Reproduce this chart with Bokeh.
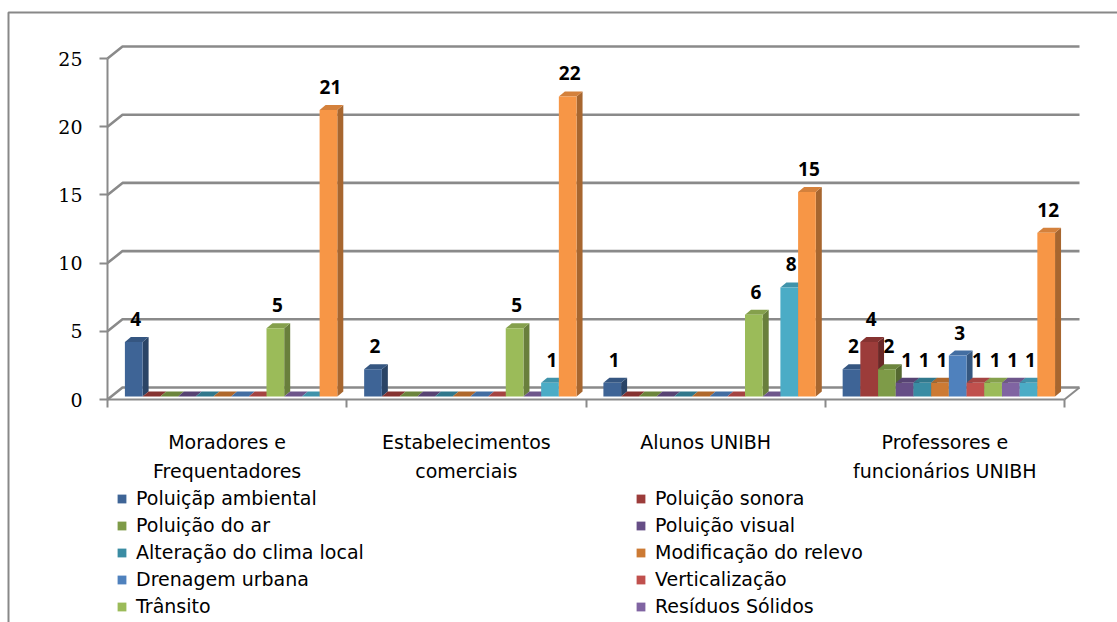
from bokeh.plotting import figure
from bokeh.models import Range1d, LinearAxis, FixedTicker, Legend, LegendItem
from bokeh.core.properties import value
from bokeh.embed import file_html
from bokeh.resources import INLINE

# ---------------- data ----------------
categories = ["Moradores e\nFrequentadores", "Estabelecimentos\ncomerciais",
              "Alunos UNIBH", "Professores e\nfuncionários UNIBH"]
legend_labels = ["Poluiçãp ambiental", "Poluição sonora", "Poluição do ar", "Poluição visual",
                 "Alteração do clima local", "Modificação do relevo", "Drenagem urbana",
                 "Verticalização", "Trânsito", "Resíduos Sólidos"]
poluicao_ambiental = [4, 2, 1, 2]
poluicao_sonora = [0, 0, 0, 4]
poluicao_ar = [0, 0, 0, 2]
poluicao_visual = [0, 0, 0, 1]
alteracao_clima = [0, 0, 0, 1]
modificacao_relevo = [0, 0, 0, 1]
drenagem_urbana = [0, 0, 0, 3]
verticalizacao = [0, 0, 0, 1]
transito = [5, 5, 6, 1]
residuos_solidos = [0, 0, 0, 1]
serie_11 = [0, 1, 8, 1]
serie_12 = [21, 22, 15, 12]
series = [poluicao_ambiental, poluicao_sonora, poluicao_ar, poluicao_visual, alteracao_clima,
          modificacao_relevo, drenagem_urbana, verticalizacao, transito, residuos_solidos,
          serie_11, serie_12]
y_ticks = [0, 5, 10, 15, 20, 25]

colors = ["#3E6496", "#9C3C3A", "#7E9B48", "#664E86", "#3A8CA3", "#CC7A34",
          "#4F81BD", "#C0504D", "#9BBB59", "#8064A2", "#4BACC6", "#F79646"]

# ---------------- geometry (pixels -> data) ----------------
W, H = 1117, 622
X0PX, CATPX = 107.0, 239.25
Y0PX, UNITPX = 399.0, 13.64


def X(px):
    return (px - X0PX) / CATPX


def V(py):
    return (Y0PX - py) / UNITPX


def shade(hexcol, f):
    h = hexcol.lstrip("#")
    r, g, b = (int(h[i:i + 2], 16) for i in (0, 2, 4))
    return "#%02x%02x%02x" % (int(r * f), int(g * f), int(b * f))


BW = 17.7 / CATPX
GAP = 13.4 / CATPX
SHX, SHV = 4 / CATPX, 3 / UNITPX         # bars sit slightly inside the depth
DDX, DDV = 6 / CATPX, 5 / UNITPX         # bar depth
WDX, WDV = 15 / CATPX, 12 / UNITPX       # wall depth

p = figure(width=W, height=H, x_range=Range1d(X(0), X(W)), y_range=Range1d(V(H), V(0)),
           output_backend="svg", toolbar_location=None, min_border=0,
           x_axis_type=None, y_axis_type=None, outline_line_color=None,
           background_fill_color="white", border_fill_color="white")

GRID = "#8a8a8a"
LABEL_FONT = "DejaVu Sans"

# outer chart border
p.line(x=[X(8), X(8), X(W + 10)], y=[V(H + 10), V(12), V(12)], line_color="#888888", line_width=2)

# back wall gridlines + side wall diagonals
gx, gy = [], []
for t in y_ticks:
    gx.append([0, WDX, 4 + WDX])
    gy.append([t, t + WDV, t + WDV])
p.multi_line(xs=gx, ys=gy, line_color=GRID, line_width=2.6)
p.line(x=[4, 4 + WDX], y=[0, WDV], line_color=GRID, line_width=2)

# bars
front_renderers = []
lab_x, lab_y, lab_t = [], [], []
for s, vals in enumerate(series):
    col = colors[s]
    lefts, rights, bottoms, tops = [], [], [], []
    sx, sy, tx, ty = [], [], [], []
    for c, v in enumerate(vals):
        l = c + GAP + s * BW + SHX
        r = l + BW
        b = SHV
        t = SHV + v
        lefts.append(l); rights.append(r); bottoms.append(b); tops.append(t)
        sx.append([r, r + DDX, r + DDX, r]); sy.append([b, b + DDV, t + DDV, t])
        tx.append([l, r, r + DDX, l + DDX]); ty.append([t, t, t + DDV, t + DDV])
        if v > 0:
            lab_x.append((l + r) / 2 + 2 / CATPX)
            lab_y.append(t + 23 / UNITPX)
            lab_t.append(str(v))
    p.patches(xs=sx, ys=sy, fill_color=shade(col, 0.68), line_color=None)
    p.patches(xs=tx, ys=ty, fill_color=shade(col, 0.86), line_color=None)
    fr = p.quad(left=lefts, right=rights, bottom=bottoms, top=tops,
                fill_color=col, line_color=None)
    front_renderers.append(fr)

p.text(x=lab_x, y=lab_y, text=lab_t, text_font=value("Open Sans"), text_font_style="bold",
       text_font_size="19px", text_align="center", text_baseline="middle", text_color="black")

# y axis
yax = LinearAxis(fixed_location=0, ticker=FixedTicker(ticks=y_ticks), bounds=(0, 25),
                 axis_line_color=GRID, axis_line_width=2,
                 major_tick_line_color=GRID, major_tick_line_width=2,
                 major_tick_out=8, major_tick_in=0, minor_tick_line_color=None,
                 major_label_standoff=17, major_label_text_font="DejaVu Serif",
                 major_label_text_font_size="19px", major_label_text_color="black")
p.add_layout(yax, "left")

# x axis (category)
centers = [i + 0.5 for i in range(len(categories))]
xax = LinearAxis(fixed_location=0,
                 ticker=FixedTicker(ticks=centers, minor_ticks=[0, 1, 2, 3, 4]),
                 bounds=(0, 4), axis_line_color=GRID, axis_line_width=2,
                 major_tick_line_color=None, minor_tick_line_color=GRID, minor_tick_line_width=2,
                 minor_tick_out=8, minor_tick_in=0,
                 major_label_overrides={c: lab for c, lab in zip(centers, categories)},
                 major_label_standoff=23, major_label_text_font=LABEL_FONT,
                 major_label_text_font_size="19px", major_label_text_color="black",
                 major_label_text_line_height=1.33)
p.add_layout(xax, "below")

legend = Legend(items=[LegendItem(label=legend_labels[i], renderers=[front_renderers[i]])
                       for i in range(len(legend_labels))],
                ncols=2, location=(116, 5), orientation="horizontal",
                glyph_width=11, glyph_height=11, label_standoff=9, label_width=494,
                spacing=5, padding=0, margin=0, border_line_color=None,
                background_fill_alpha=0, label_text_font=LABEL_FONT,
                label_text_font_size="19px", label_text_color="black")
p.add_layout(legend, "center")

open("out.html", "w").write(file_html(p, INLINE))
